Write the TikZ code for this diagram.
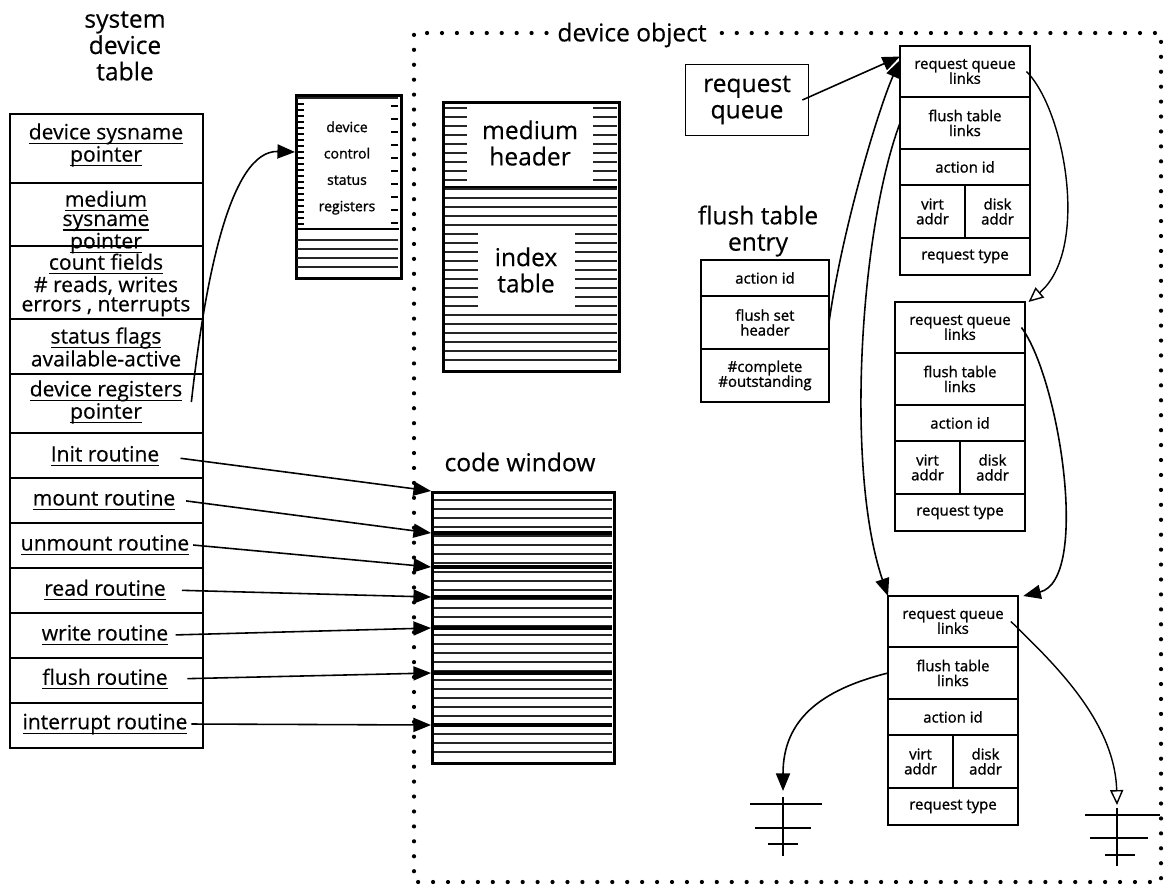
\documentclass[tikz,border=0pt]{standalone}
\usepackage{fontspec}
\setmainfont{Open Sans}[FakeBold=0.4]
\newfontfamily\fieldfont{Open Sans}[FakeBold=1.2]
\usetikzlibrary{arrows.meta,positioning}

% underline one line of text, crossing the descenders
\newcommand{\ulin}[1]{\setbox0\hbox{#1}\rlap{\rule[-2.6pt]{\wd0}{0.7pt}}\box0}

\tikzset{
  ptr/.style={-{Triangle[length=10pt,width=8pt]}, line width=0.9pt},
  optr/.style={-{Triangle[open,length=8.5pt,width=7.5pt]}, line width=0.8pt},
  biglbl/.style={font=\fontsize{14}{15}\selectfont, align=center, inner sep=1pt},
  celltxt/.style={font=\fontsize{12}{11}\selectfont, align=center, inner sep=2pt},
  smalltxt/.style={font=\fieldfont\fontsize{8.5}{8.5}\selectfont, align=center},
  field/.style={draw, line width=0.8pt, smalltxt, inner sep=0pt, outer sep=0pt},
  hatch/.style={line width=1.4pt, black!85},
  dotline/.style={line width=2.4pt, line cap=round, dash pattern=on 0pt off 8.5pt},
  ground/.style={line width=0.8pt},
}

\begin{document}
\begin{tikzpicture}[x=0.02cm, y=-0.02cm]
  \useasboundingbox (0,0) rectangle (1165,886);

  % system device table
  \node[biglbl] (sdt) at (125,46) {system\\device\\table};
  \node[celltxt] (devsys) at (106,145) {\ulin{device sysname}\\\ulin{pointer}};
  \node[celltxt] (medsys) at (106,222) {\ulin{medium}\\\ulin{sysname}\\\ulin{pointer}};
  \node[celltxt] (counts) at (106,285) {\ulin{count fields}\\\# reads, writes\\errors , nterrupts};
  \node[celltxt] (status) at (106,347) {\ulin{status flags}\\available-active};
  \node[celltxt] (devreg) at (106,402) {\ulin{device registers}\\\ulin{pointer}};
  \node[celltxt] (init) at (105,456) {\ulin{Init routine}};
  \node[celltxt] (mount) at (104,500) {\ulin{mount routine}};
  \node[celltxt] (unmount) at (105,545) {\ulin{unmount routine}};
  \node[celltxt] (read) at (105,590) {\ulin{read routine}};
  \node[celltxt] (write) at (105,635) {\ulin{write routine}};
  \node[celltxt] (flush) at (105,679) {\ulin{flush routine}};
  \node[celltxt] (intr) at (105,724) {\ulin{interrupt routine}};
  \draw[line width=1pt] (10,114) rectangle (203,748);
  \foreach \y in {183,246,319,374,433,478,523,568,613,658,703}
    \draw[line width=1pt] (10,\y) -- (203,\y);

  % device control status registers
  \node[draw, line width=1.6pt, anchor=north west, minimum width=2.1cm, minimum height=3.66cm] (dcsr) at (295,94) {};
  \draw[hatch] (297,98) -- (398,98);
  \foreach \y in {104,110,...,224}
    \draw[line width=0.9pt] (297,\y) -- (304,\y);
  \foreach \y in {106,119,...,224}
    \draw[line width=0.9pt] (391,\y) -- (398,\y);
  \draw[line width=1.2pt] (296,229) -- (399,229);
  \foreach \y in {240,249,258,267}
    \draw[hatch] (297,\y) -- (398,\y);
  \node[font=\fieldfont\fontsize{8}{15}\selectfont, align=center] (dcsrtxt) at (347,168) {device\\control\\status\\registers};
  \draw[ptr] ([xshift=3pt]devreg.east) .. controls (205,280) and (230,150) .. (dcsr.west |- 0,152);

  % device object frame
  \node[biglbl, inner xsep=6pt] (devobj) at (632,35) {device object};
  \draw[dotline] (devobj.west |- 0,33) -- (414,33) -- (414,882) -- (1161,882) -- (1161,33) -- (devobj.east |- 0,33);

  % medium header and index table
  \foreach \y in {108,117,...,365}
    \draw[hatch] (443,\y) -- (617,\y);
  \node[biglbl, fill=white, minimum width=2.52cm, minimum height=1.58cm] (medhdr) at (530,143) {medium\\header};
  \node[biglbl, fill=white, minimum width=1.94cm, minimum height=1.48cm] (idxtab) at (526,270) {index\\table};
  \draw[line width=1.5pt] (443,187) -- (617,187);
  \node[draw, line width=1.8pt, anchor=north west, minimum width=3.52cm, minimum height=5.38cm] (medbox) at (442,101) {};

  % code window
  \node[biglbl] (cwlbl) at (520,462) {code window};
  \foreach \y in {500,509,...,755}
    \draw[hatch] (432,\y) -- (612,\y);
  \foreach \y in {533,567,597,628,673,725}
    \draw[line width=2.4pt] (432,\y) -- (612,\y);
  \node[draw, line width=1.8pt, anchor=north west, minimum width=3.64cm, minimum height=5.42cm] (codewin) at (431,491) {};
  \foreach \src/\y/\gap in {init/491/10pt, mount/533/4pt, unmount/567/0pt, read/597/7pt, write/628/2pt, flush/673/9pt, intr/725/0pt}
    \draw[ptr, shorten <=\gap] (\src.east) -- (codewin.west |- 0,\y);

  % request queue
  \node[draw, line width=1pt, biglbl, minimum width=2.46cm, minimum height=1.42cm] (reqq) at (747,100) {request\\queue};

  % request entries
  \foreach \r/\x/\y in {1/900/46, 2/895/302, 3/888/596} {
    \node[field, anchor=north west, minimum width=2.6cm, minimum height=1.02cm] (rq\r-q) at (\x,\y) {request queue\\links};
    \node[field, below=0pt of rq\r-q, minimum width=2.6cm, minimum height=1.04cm] (rq\r-f) {flush table\\links};
    \node[field, below=0pt of rq\r-f, minimum width=2.6cm, minimum height=0.72cm] (rq\r-a) {action id};
    \node[field, anchor=north west, minimum width=1.3cm, minimum height=1.06cm] (rq\r-v) at (rq\r-a.south west) {virt\\addr};
    \node[field, anchor=north west, minimum width=1.3cm, minimum height=1.06cm] (rq\r-d) at (rq\r-v.north east) {disk\\addr};
    \node[field, anchor=north west, minimum width=2.6cm, minimum height=0.74cm] (rq\r-t) at (rq\r-v.south west) {request type};
  }

  % flush table entry
  \node[biglbl] (ftelbl) at (758,231) {flush table\\entry};
  \node[field, anchor=north west, minimum width=2.56cm, minimum height=0.72cm] (fte-a) at (701,260) {action id};
  \node[field, below=0pt of fte-a, minimum width=2.56cm, minimum height=1.06cm] (fte-h) {flush set\\header};
  \node[field, below=0pt of fte-h, minimum width=2.56cm, minimum height=1.06cm] (fte-c) {\#complete\\\#outstanding};

  % ground ends
  \coordinate (gndL) at (783,791);
  \coordinate (gndR) at (1117,805);
  \draw[ground] (783,797) -- (783,856);
  \draw[ground] (750,804) -- (822,804);
  \draw[ground] (755,828) -- (811,828);
  \draw[ground] (768,844) -- (798,844);
  \draw[ground] (1117,808) -- (1117,866);
  \draw[ground] (1085,815) -- (1160,815);
  \draw[ground] (1090,838) -- (1148,838);
  \draw[ground] (1105,855) -- (1135,855);

  % links between entries
  \draw[ptr] ([xshift=-4pt]reqq.east) -- ([yshift=-6pt]rq1-q.north west);
  \draw[ptr] (fte-h.east) .. controls (842,230) and (878,110) .. ([yshift=-8pt]rq1-q.north west);
  \draw[ptr] (rq1-f.west) .. controls (860,230) and (845,470) .. (rq3-q.north west);
  \draw[optr] ([xshift=-2pt]rq1-q.east) .. controls (1065,110) and (1090,250) .. ([xshift=2pt]rq2-q.north east);
  \draw[ptr] ([xshift=-2pt]rq2-q.east) .. controls (1060,380) and (1090,580) .. ([xshift=3pt]rq3-q.north east);
  \draw[optr] ([xshift=-4pt]rq3-q.east) .. controls (1050,660) and (1115,720) .. (gndR);
  \draw[ptr] (rq3-f.west) .. controls (820,690) and (783,720) .. (gndL);
\end{tikzpicture}
\end{document}
